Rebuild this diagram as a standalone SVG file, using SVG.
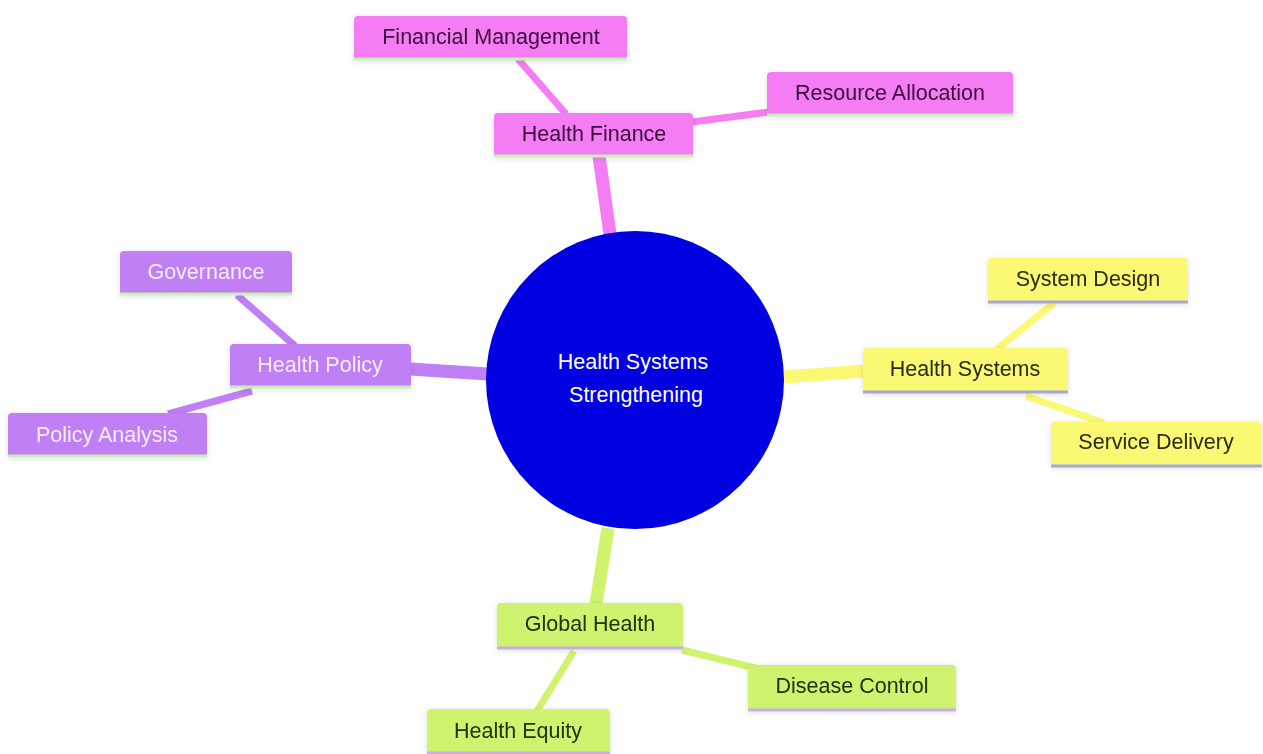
<svg xmlns="http://www.w3.org/2000/svg" width="1263" height="754" viewBox="0 0 1263 754">
<defs>
<filter id="sh" x="-10%" y="-30%" width="120%" height="160%">
<feDropShadow dx="0" dy="1" stdDeviation="3" flood-color="#000" flood-opacity="0.12"/>
</filter>
<style>
text{font-family:"Liberation Sans",Arial,sans-serif;font-size:21.5px;text-anchor:middle;dominant-baseline:central}
.pink{fill:#f57df4}
.purple{fill:#c07ff5}
.yellow{fill:#fbf873}
.green{fill:#cff36e}
.tp{fill:#3a0d3a}
.tu{fill:#f6eeff}
.ty{fill:#2a2a12}
.tg{fill:#22300c}
.lg{stroke:#c6f0b4;stroke-width:3}
.lb{stroke:#a6a6dc;stroke-width:3}
.ll{stroke:#c4aef0;stroke-width:3}
.cp{stroke:#f57df4;fill:none;stroke-linecap:butt}
.cu{stroke:#c07ff5;fill:none}
.cy{stroke:#fbf873;fill:none}
.cg{stroke:#cff36e;fill:none}
.main{stroke-width:13}
.sub{stroke-width:7}
</style>
</defs>
<rect width="1263" height="754" fill="#ffffff"/>
<g id="connectors">
<line class="cp main" x1="610" y1="234" x2="599" y2="156"/>
<line class="cp sub" x1="566" y1="114" x2="518" y2="59"/>
<line class="cp sub" x1="692" y1="122" x2="769" y2="112"/>
<line class="cu main" x1="488" y1="374" x2="410" y2="369"/>
<line class="cu sub" x1="295" y1="346" x2="237" y2="295"/>
<line class="cu sub" x1="252" y1="391" x2="168" y2="414"/>
<line class="cy main" x1="784" y1="377" x2="864" y2="371"/>
<line class="cy sub" x1="997" y1="349" x2="1054" y2="303"/>
<line class="cy sub" x1="1026" y1="396" x2="1104" y2="423"/>
<line class="cg main" x1="608" y1="528" x2="596" y2="604"/>
<line class="cg sub" x1="574" y1="651" x2="532" y2="719"/>
<line class="cg sub" x1="682" y1="650" x2="768" y2="671"/>
</g>
<g id="center">
<circle cx="635" cy="380" r="149" fill="#0000e0"/>
<text x="633" y="362" fill="#ffffff">Health Systems</text>
<text x="636" y="395" fill="#ffffff">Strengthening</text>
</g>
<g id="health-finance" filter="url(#sh)">
<rect class="pink" x="494" y="113" width="199" height="44" rx="4"/>
<line class="lg" x1="494" y1="156" x2="693" y2="156"/>
<text class="tp" x="594" y="134">Health Finance</text>
</g>
<g id="financial-management" filter="url(#sh)">
<rect class="pink" x="354" y="16" width="273" height="44" rx="4"/>
<line class="lg" x1="354" y1="59" x2="627" y2="59"/>
<text class="tp" x="491" y="37">Financial Management</text>
</g>
<g id="resource-allocation" filter="url(#sh)">
<rect class="pink" x="767" y="72" width="246" height="44" rx="4"/>
<line class="lg" x1="767" y1="115" x2="1013" y2="115"/>
<text class="tp" x="890" y="93">Resource Allocation</text>
</g>
<g id="health-policy" filter="url(#sh)">
<rect class="purple" x="230" y="344" width="181" height="44" rx="4"/>
<line class="lg" x1="230" y1="387" x2="411" y2="387"/>
<text class="tu" x="320" y="365">Health Policy</text>
</g>
<g id="governance" filter="url(#sh)">
<rect class="purple" x="120" y="251" width="172" height="44" rx="4"/>
<line class="lg" x1="120" y1="294" x2="292" y2="294"/>
<text class="tu" x="206" y="272">Governance</text>
</g>
<g id="policy-analysis" filter="url(#sh)">
<rect class="purple" x="8" y="413" width="199" height="44" rx="4"/>
<line class="lg" x1="8" y1="456" x2="207" y2="456"/>
<text class="tu" x="107" y="435">Policy Analysis</text>
</g>
<g id="health-systems" filter="url(#sh)">
<rect class="yellow" x="863" y="348" width="205" height="45" rx="4"/>
<line class="lb" x1="863" y1="392" x2="1068" y2="392"/>
<text class="ty" x="965" y="369">Health Systems</text>
</g>
<g id="system-design" filter="url(#sh)">
<rect class="yellow" x="988" y="258" width="200" height="45" rx="4"/>
<line class="lb" x1="988" y1="302" x2="1188" y2="302"/>
<text class="ty" x="1088" y="279">System Design</text>
</g>
<g id="service-delivery" filter="url(#sh)">
<rect class="yellow" x="1051" y="422" width="211" height="45" rx="4"/>
<line class="lb" x1="1051" y1="466" x2="1262" y2="466"/>
<text class="ty" x="1156" y="442">Service Delivery</text>
</g>
<g id="global-health" filter="url(#sh)">
<rect class="green" x="497" y="603" width="186" height="46" rx="4"/>
<line class="ll" x1="497" y1="648" x2="683" y2="648"/>
<text class="tg" x="590" y="624">Global Health</text>
</g>
<g id="disease-control" filter="url(#sh)">
<rect class="green" x="748" y="665" width="208" height="46" rx="4"/>
<line class="ll" x1="748" y1="710" x2="956" y2="710"/>
<text class="tg" x="852" y="686">Disease Control</text>
</g>
<g id="health-equity" filter="url(#sh)">
<rect class="green" x="427" y="709" width="183" height="46" rx="4"/>
<line class="ll" x1="427" y1="753" x2="610" y2="753"/>
<text class="tg" x="518" y="731">Health Equity</text>
</g>
</svg>
